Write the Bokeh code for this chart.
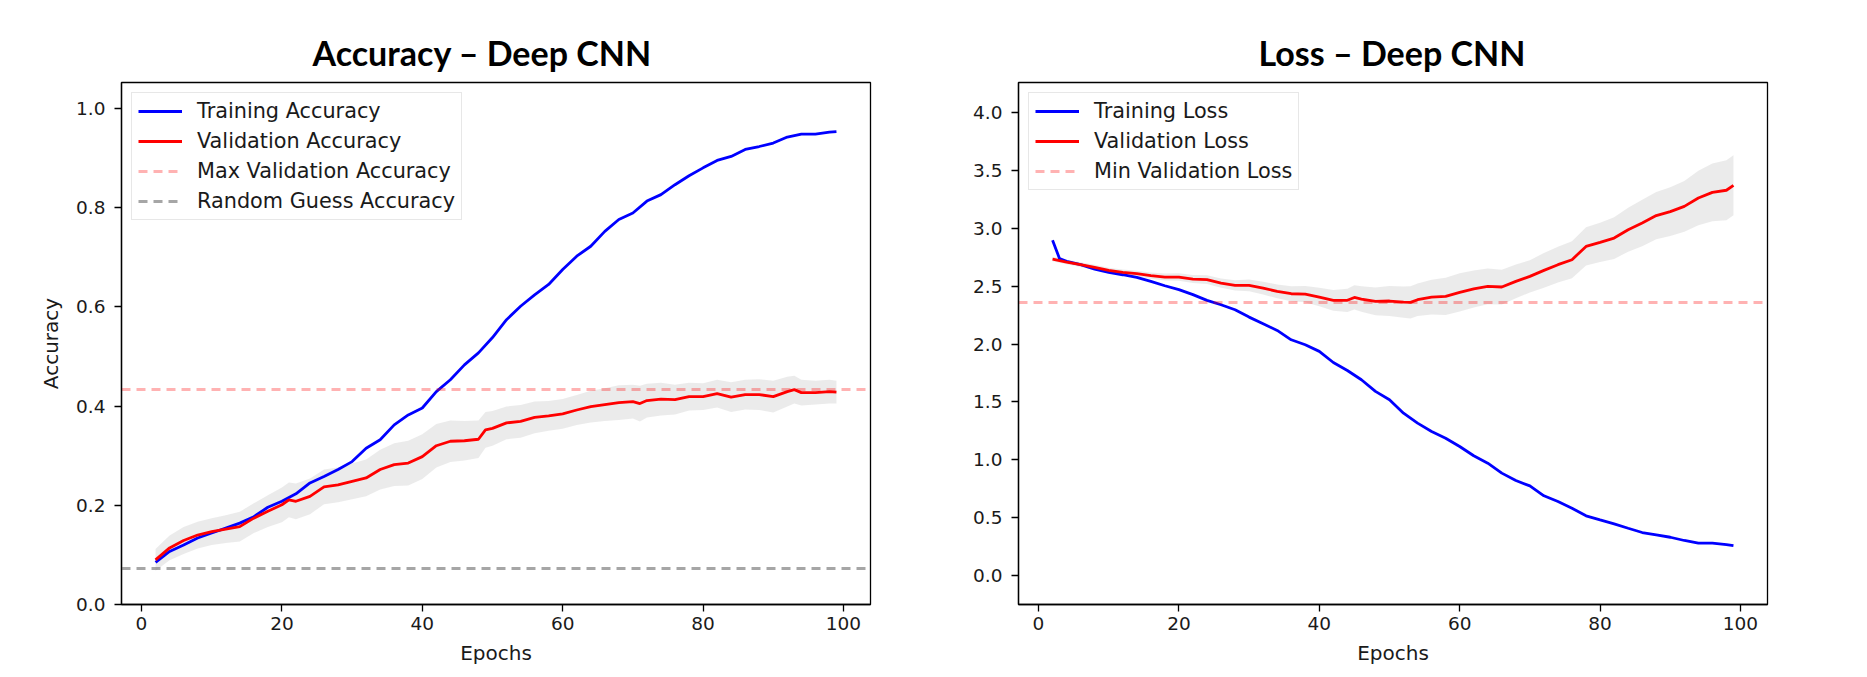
from bokeh.plotting import figure
from bokeh.layouts import row
from bokeh.models import Range1d, FixedTicker, PrintfTickFormatter
from bokeh.embed import file_html
from bokeh.resources import INLINE
import numpy as np

# ---------------- data ----------------
x_ticks = [0, 20, 40, 60, 80, 100]
acc_ticks = [0.0, 0.2, 0.4, 0.6, 0.8, 1.0]
loss_ticks = [0.0, 0.5, 1.0, 1.5, 2.0, 2.5, 3.0, 3.5, 4.0]

train_acc_epochs = [2, 4, 6, 8, 10, 12, 14, 16, 18, 20, 22, 24, 26, 28, 30, 32, 34, 36, 38, 40,
                    42, 44, 46, 48, 50, 52, 54, 56, 58, 60, 62, 64, 66, 68, 70, 72, 74, 76, 78, 80,
                    82, 84, 86, 88, 90, 92, 94, 96, 98, 99]
train_acc = [0.085, 0.107, 0.120, 0.134, 0.144, 0.154, 0.164, 0.177, 0.196, 0.208, 0.223, 0.245,
             0.258, 0.272, 0.288, 0.315, 0.332, 0.362, 0.382, 0.396, 0.429, 0.453, 0.483, 0.507,
             0.538, 0.574, 0.601, 0.624, 0.645, 0.675, 0.702, 0.722, 0.752, 0.776, 0.789, 0.813,
             0.826, 0.846, 0.864, 0.880, 0.895, 0.903, 0.917, 0.923, 0.930, 0.942, 0.948, 0.948,
             0.952, 0.953]

val_acc_epochs = [2, 4, 6, 8, 10, 12, 14, 16, 18, 20, 21, 22, 24, 26, 28, 30, 32, 34, 36, 38, 40,
                  42, 44, 46, 48, 49, 50, 52, 54, 56, 58, 60, 62, 64, 66, 68, 70, 71, 72, 74, 76,
                  78, 80, 82, 84, 86, 88, 90, 92, 93, 94, 96, 98, 99]
val_acc = [0.090, 0.114, 0.129, 0.140, 0.147, 0.152, 0.157, 0.174, 0.188, 0.201, 0.211, 0.208,
           0.218, 0.237, 0.241, 0.248, 0.255, 0.272, 0.282, 0.285, 0.298, 0.320, 0.329, 0.330,
           0.333, 0.352, 0.355, 0.366, 0.369, 0.377, 0.380, 0.384, 0.392, 0.399, 0.403, 0.407,
           0.409, 0.405, 0.411, 0.414, 0.413, 0.419, 0.419, 0.425, 0.418, 0.423, 0.423, 0.419,
           0.429, 0.433, 0.427, 0.427, 0.429, 0.428]
val_acc_std = [0.022, 0.025, 0.027, 0.027, 0.027, 0.028, 0.030, 0.030, 0.032, 0.035, 0.035, 0.036,
               0.036, 0.035, 0.035, 0.036, 0.037, 0.040, 0.043, 0.045, 0.045, 0.044, 0.042, 0.040,
               0.038, 0.036, 0.035, 0.033, 0.033, 0.032, 0.030, 0.030, 0.030, 0.032, 0.033, 0.035,
               0.034, 0.036, 0.034, 0.033, 0.030, 0.028, 0.027, 0.028, 0.030, 0.030, 0.031, 0.032,
               0.030, 0.028, 0.026, 0.024, 0.024, 0.023]
random_guess = 0.072

train_loss_epochs = [2, 3, 4, 6, 8, 10, 12, 14, 16, 18, 20, 22, 24, 26, 28, 30, 32, 34, 36, 38, 40,
                     42, 44, 46, 48, 50, 52, 54, 56, 58, 60, 62, 64, 66, 68, 70, 72, 74, 76, 78, 80,
                     82, 84, 86, 88, 90, 92, 94, 96, 98, 99]
train_loss = [2.896, 2.738, 2.715, 2.686, 2.648, 2.620, 2.599, 2.576, 2.542, 2.504, 2.470, 2.427,
              2.378, 2.340, 2.297, 2.233, 2.176, 2.118, 2.037, 1.994, 1.937, 1.841, 1.772, 1.692,
              1.591, 1.519, 1.403, 1.317, 1.245, 1.187, 1.115, 1.035, 0.971, 0.885, 0.821, 0.775,
              0.689, 0.640, 0.582, 0.516, 0.481, 0.447, 0.409, 0.372, 0.352, 0.331, 0.303, 0.280,
              0.280, 0.268, 0.259]

val_loss_epochs = [2, 4, 6, 8, 10, 12, 14, 16, 18, 20, 22, 24, 26, 28, 30, 32, 34, 36, 38, 40, 42,
                   44, 45, 46, 48, 50, 52, 53, 54, 56, 58, 60, 62, 64, 66, 68, 70, 72, 74, 76, 78,
                   80, 82, 84, 86, 88, 90, 92, 94, 96, 98, 99]
val_loss = [2.735, 2.709, 2.686, 2.663, 2.637, 2.620, 2.608, 2.591, 2.579, 2.579, 2.562, 2.556,
            2.527, 2.507, 2.507, 2.484, 2.455, 2.435, 2.432, 2.406, 2.378, 2.378, 2.403, 2.389,
            2.369, 2.372, 2.362, 2.360, 2.383, 2.406, 2.412, 2.447, 2.476, 2.499, 2.493, 2.542,
            2.585, 2.637, 2.686, 2.729, 2.844, 2.879, 2.916, 2.988, 3.046, 3.110, 3.144, 3.190,
            3.262, 3.311, 3.329, 3.372]
val_loss_std = [0.020, 0.020, 0.020, 0.022, 0.022, 0.024, 0.025, 0.027, 0.030, 0.032, 0.035, 0.038,
                0.040, 0.045, 0.050, 0.055, 0.060, 0.065, 0.070, 0.080, 0.090, 0.100, 0.105, 0.110,
                0.120, 0.130, 0.135, 0.140, 0.140, 0.150, 0.160, 0.165, 0.160, 0.155, 0.150, 0.145,
                0.140, 0.150, 0.155, 0.160, 0.165, 0.170, 0.180, 0.190, 0.200, 0.205, 0.210, 0.220,
                0.235, 0.250, 0.260, 0.260]

# ---------------- styling helpers ----------------
TICK_FONT = "18.5px"
LABEL_FONT = "20px"
LEGEND_FONT = "20.8px"
DASH = "9 6"
LW = 2.8


def make_fig(title, ymin, ymax, yticks, ylabel, width, left, right, title_offset):
    p = figure(width=width, height=669, output_backend="svg", toolbar_location=None,
               x_range=Range1d(-2.85, 103.85), y_range=Range1d(ymin, ymax),
               min_border_left=left, min_border_right=right,
               min_border_top=82, min_border_bottom=65, title=title)
    p.title.text_font = "Lato"
    p.title.text_font_style = "bold"
    p.title.text_font_size = "34px"
    p.title.align = "left"
    p.title.offset = title_offset
    p.title.text_color = "black"
    p.title.standoff = 19
    p.background_fill_color = "white"
    p.border_fill_color = "white"
    p.outline_line_color = "black"
    p.outline_line_width = 1.3
    p.grid.visible = False
    for ax in (p.xaxis[0], p.yaxis[0]):
        ax.axis_line_color = "black"
        ax.axis_line_width = 1.3
        ax.major_tick_line_color = "black"
        ax.major_tick_line_width = 1.3
        ax.major_tick_in = 0
        ax.major_tick_out = 7
        ax.minor_tick_line_color = None
        ax.major_label_text_font = "DejaVu Sans"
        ax.major_label_text_font_size = TICK_FONT
        ax.major_label_text_color = "#1a1a1a"
        ax.axis_label_text_font = "DejaVu Sans"
        ax.axis_label_text_font_size = LABEL_FONT
        ax.axis_label_text_font_style = "normal"
        ax.axis_label_text_color = "#1a1a1a"
    p.xaxis.ticker = FixedTicker(ticks=x_ticks)
    p.yaxis.ticker = FixedTicker(ticks=yticks)
    p.yaxis.formatter = PrintfTickFormatter(format="%.1f")
    p.xaxis.major_label_standoff = 5
    p.yaxis.major_label_standoff = 9
    p.xaxis.axis_label = "Epochs"
    p.xaxis.axis_label_standoff = 8
    if ylabel:
        p.yaxis.axis_label = ylabel
        p.yaxis.axis_label_standoff = 10
    return p


def style_legend(p):
    lg = p.legend[0]
    lg.location = "top_left"
    lg.margin = 10
    lg.padding = 6
    lg.spacing = 6
    lg.glyph_width = 44
    lg.glyph_height = 20
    lg.label_height = 20
    lg.label_standoff = 15
    lg.label_text_font = "DejaVu Sans"
    lg.label_text_font_size = LEGEND_FONT
    lg.label_text_color = "#1a1a1a"
    lg.border_line_color = "#d0d0d0"
    lg.border_line_width = 1.3
    lg.background_fill_alpha = 0.8


# ---------------- accuracy plot ----------------
p1 = make_fig("Accuracy \u2013 Deep CNN", 0.0, 1.052, acc_ticks, "Accuracy", 945, 121, 75, 191)
va = np.array(val_acc)
vs = np.array(val_acc_std)
p1.varea(x=val_acc_epochs, y1=va - vs, y2=va + vs, fill_color="gray", fill_alpha=0.16)
p1.line(train_acc_epochs, train_acc, line_color="blue", line_width=LW,
        legend_label="Training Accuracy")
p1.line(val_acc_epochs, val_acc, line_color="red", line_width=LW,
        legend_label="Validation Accuracy")
p1.hspan(y=[max(val_acc)], line_color="red", line_alpha=0.3, line_width=LW,
         line_dash=DASH, legend_label="Max Validation Accuracy")
p1.hspan(y=[random_guess], line_color="gray", line_alpha=0.7, line_width=LW,
         line_dash=DASH, legend_label="Random Guess Accuracy")
style_legend(p1)

# ---------------- loss plot ----------------
p2 = make_fig("Loss \u2013 Deep CNN", -0.25, 4.26, loss_ticks, None, 914, 73, 92, 240)
vl = np.array(val_loss)
vls = np.array(val_loss_std)
p2.varea(x=val_loss_epochs, y1=vl - vls, y2=vl + vls, fill_color="gray", fill_alpha=0.16)
p2.line(train_loss_epochs, train_loss, line_color="blue", line_width=LW,
        legend_label="Training Loss")
p2.line(val_loss_epochs, val_loss, line_color="red", line_width=LW,
        legend_label="Validation Loss")
p2.hspan(y=[min(val_loss)], line_color="red", line_alpha=0.3, line_width=LW,
         line_dash=DASH, legend_label="Min Validation Loss")
style_legend(p2)

layout = row(p1, p2)
open("out.html", "w").write(file_html(layout, INLINE))
